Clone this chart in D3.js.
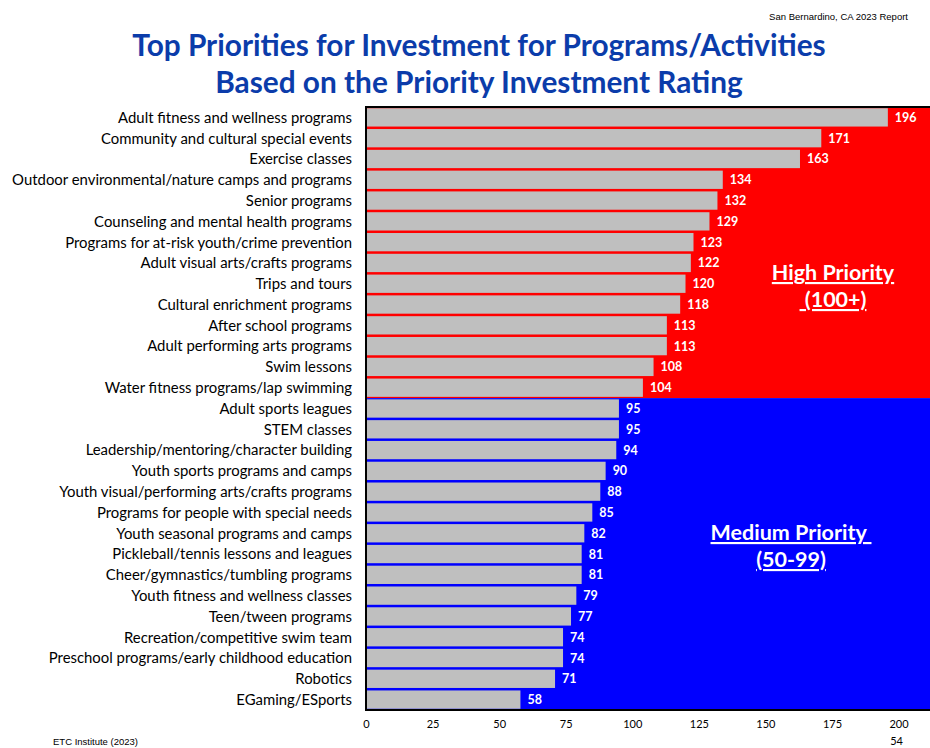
<!DOCTYPE html>
<html>
<head>
<meta charset="utf-8">
<script src="https://cdn.jsdelivr.net/npm/d3@7"></script>
<style>
  html, body { margin: 0; padding: 0; background: #fff; }
  svg { display: block; }
</style>
</head>
<body>
<svg id="chart" width="930" height="748"></svg>
<script>
// Program categories, ranked by Priority Investment Rating
const categories = [
  "Adult fitness and wellness programs",
  "Community and cultural special events",
  "Exercise classes",
  "Outdoor environmental/nature camps and programs",
  "Senior programs",
  "Counseling and mental health programs",
  "Programs for at-risk youth/crime prevention",
  "Adult visual arts/crafts programs",
  "Trips and tours",
  "Cultural enrichment programs",
  "After school programs",
  "Adult performing arts programs",
  "Swim lessons",
  "Water fitness programs/lap swimming",
  "Adult sports leagues",
  "STEM classes",
  "Leadership/mentoring/character building",
  "Youth sports programs and camps",
  "Youth visual/performing arts/crafts programs",
  "Programs for people with special needs",
  "Youth seasonal programs and camps",
  "Pickleball/tennis lessons and leagues",
  "Cheer/gymnastics/tumbling programs",
  "Youth fitness and wellness classes",
  "Teen/tween programs",
  "Recreation/competitive swim team",
  "Preschool programs/early childhood education",
  "Robotics",
  "EGaming/ESports"
];
const ratings = [196, 171, 163, 134, 132, 129, 123, 122, 120, 118, 113, 113, 108, 104,
                 95, 95, 94, 90, 88, 85, 82, 81, 81, 79, 77, 74, 74, 71, 58];
const tickValues = [0, 25, 50, 75, 100, 125, 150, 175, 200];
// Priority tiers: first/last category in each shaded band
const tiers = [
  { name: "High Priority", range: " (100+)", from: 0, to: 13, color: "#FF0000" },
  { name: "Medium Priority ", range: "(50-99)", from: 14, to: 28, color: "#0000FF" }
];

const svg = d3.select("#chart");
const W = 930, H = 748;
const plot = { left: 366, top: 107, right: 940, bottom: 710 };

const x = d3.scaleLinear().domain([0, 200]).range([plot.left, plot.left + 532.5]);
const y = d3.scaleBand().domain(categories).range([plot.top, plot.bottom]).paddingInner(0.12).paddingOuter(0.06);

const defs = svg.append("defs");
defs.append("clipPath").attr("id", "clip")
  .append("rect").attr("x", 0).attr("y", 0).attr("width", W).attr("height", H);

const g = svg.append("g").attr("clip-path", "url(#clip)");

// Tier background bands
const rowH = (plot.bottom - plot.top) / categories.length;
g.selectAll("rect.tier").data(tiers).join("rect")
  .attr("class", "tier")
  .attr("x", plot.left)
  .attr("y", d => plot.top + d.from * rowH)
  .attr("width", plot.right - plot.left)
  .attr("height", d => (d.to - d.from + 1) * rowH)
  .attr("fill", d => d.color);

// Bars
const data = categories.map((c, i) => ({ c, v: ratings[i], i }));
g.selectAll("rect.bar").data(data).join("rect")
  .attr("class", "bar")
  .attr("x", x(0))
  .attr("y", d => y(d.c))
  .attr("width", d => x(d.v) - x(0))
  .attr("height", y.bandwidth())
  .attr("fill", "#BFBFBF");

// Value labels
g.selectAll("text.val").data(data).join("text")
  .attr("class", "val")
  .attr("x", d => x(d.v) + 7)
  .attr("y", d => y(d.c) + y.bandwidth() / 2)
  .attr("dy", "0.36em")
  .attr("fill", "#fff")
  .attr("font-family", "Lato, 'Open Sans', sans-serif")
  .attr("font-weight", "bold")
  .attr("font-size", 12.5)
  .text(d => d.v);

// Plot frame
g.append("path")
  .attr("d", `M${plot.right},${plot.top}H${plot.left}V${plot.bottom}H${plot.right}`)
  .attr("fill", "none").attr("stroke", "#000").attr("stroke-width", 2);

// Category labels
svg.append("g").selectAll("text").data(categories).join("text")
  .attr("x", 352)
  .attr("y", d => y(d) + y.bandwidth() / 2)
  .attr("dy", "0.36em")
  .attr("text-anchor", "end")
  .attr("font-family", "Lato, 'Open Sans', sans-serif")
  .attr("font-size", 14.9)
  .attr("fill", "#000")
  .text(d => d);

// X axis
const xAxis = d3.axisBottom(x).tickValues(tickValues).tickSize(0).tickPadding(0);
const ax = svg.append("g").attr("transform", `translate(0,${plot.bottom + 10})`).call(xAxis);
ax.select(".domain").remove();
ax.selectAll("text")
  .attr("font-family", "Lato, 'Open Sans', sans-serif")
  .attr("font-size", 11)
  .attr("fill", "#000")
  .attr("dy", "0.71em");

// Tier captions
const captions = [
  { lines: tiers[0], cx: 833, y1: 280, y2: 307 },
  { lines: tiers[1], cx: 791, y1: 540, y2: 567 }
];
captions.forEach(cp => {
  [cp.lines.name, cp.lines.range].forEach((t, k) => {
    svg.append("text")
      .attr("x", cp.cx).attr("y", k === 0 ? cp.y1 : cp.y2)
      .attr("text-anchor", "middle")
      .attr("font-family", "Lato, 'Open Sans', sans-serif")
      .attr("font-weight", "bold")
      .attr("font-size", 21.5)
      .attr("fill", "#fff")
      .attr("text-decoration", "underline")
      .style("white-space", "pre")
      .text(t);
  });
});

// Titles and notes
const title = ["Top Priorities for Investment for Programs/Activities",
               "Based on the Priority Investment Rating"];
svg.selectAll("text.title").data(title).join("text")
  .attr("class", "title")
  .attr("x", 479)
  .attr("y", (d, i) => 56 + i * 37)
  .attr("text-anchor", "middle")
  .attr("font-family", "Lato, 'Open Sans', sans-serif")
  .attr("font-weight", "bold")
  .attr("font-size", 29.8)
  .attr("fill", "#0B3CAA")
  .text(d => d);

svg.append("text").attr("x", 908).attr("y", 20).attr("text-anchor", "end")
  .attr("font-family", "'Liberation Sans', Arial, sans-serif").attr("font-size", 9.5)
  .attr("fill", "#000").text("San Bernardino, CA 2023 Report");
svg.append("text").attr("x", 53).attr("y", 745)
  .attr("font-family", "'Liberation Sans', Arial, sans-serif").attr("font-size", 9.5)
  .attr("fill", "#000").text("ETC Institute (2023)");
svg.append("text").attr("x", 903).attr("y", 745).attr("text-anchor", "end")
  .attr("font-family", "Lato, 'Open Sans', sans-serif").attr("font-size", 11)
  .attr("fill", "#000").text("54");
</script>
</body>
</html>
